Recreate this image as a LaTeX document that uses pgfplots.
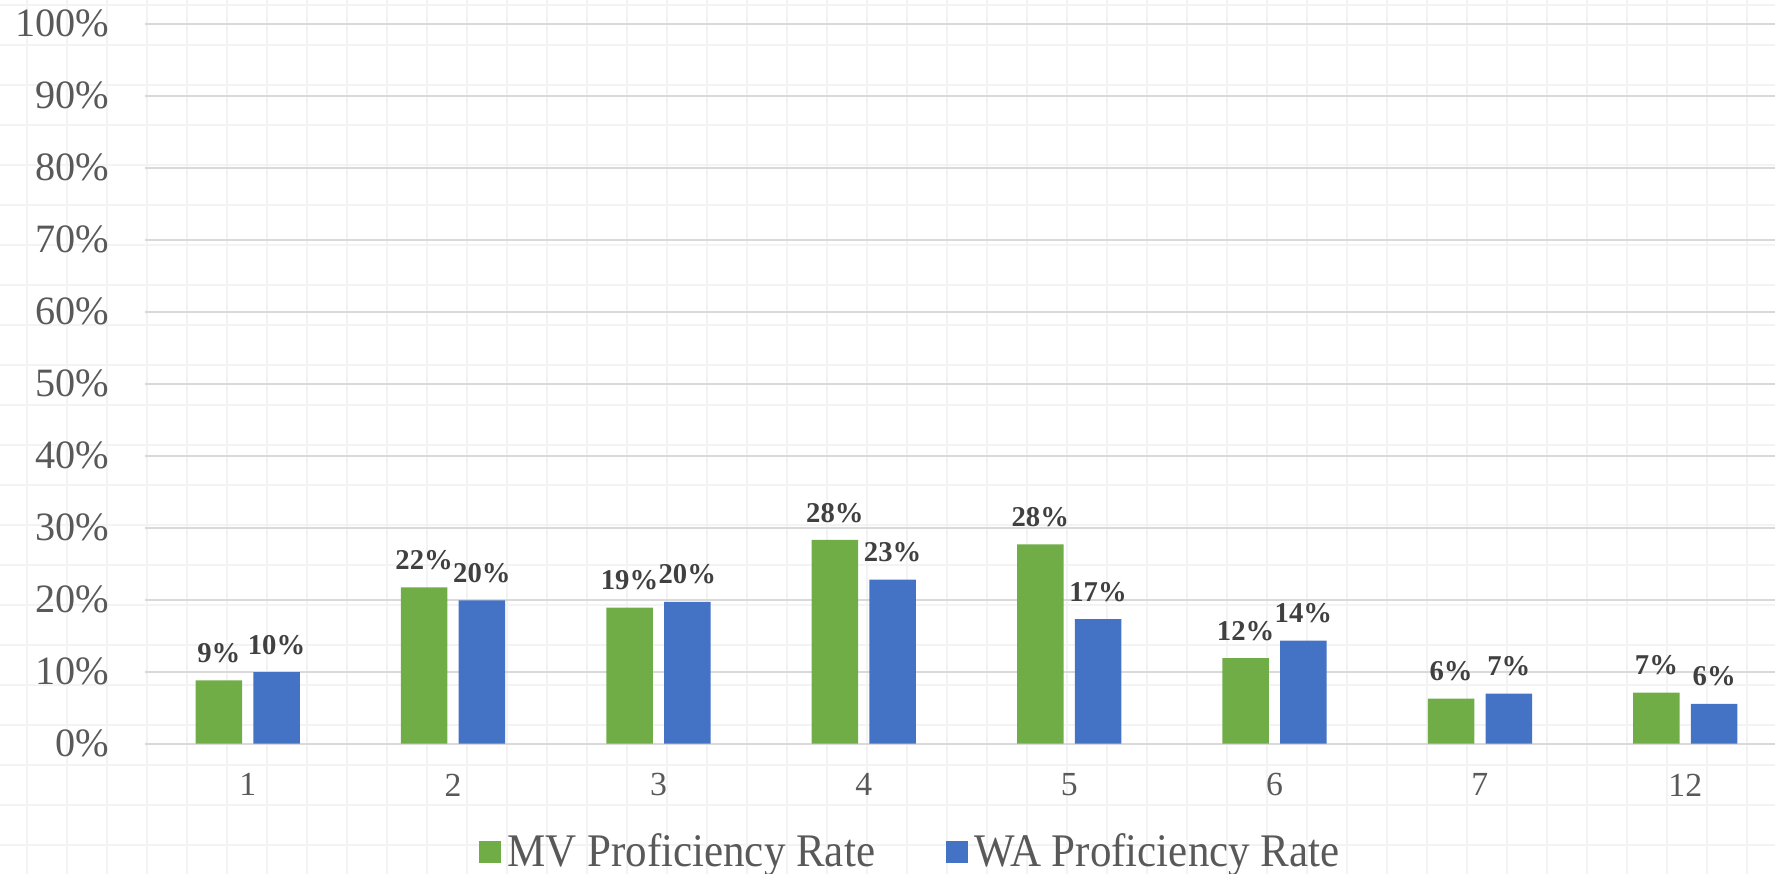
\documentclass[border=0pt]{standalone}
\usepackage{fontspec}
\setmainfont{Liberation Serif}
\usepackage{graphicx}
\usepackage{pgfplots}
\pgfplotsset{compat=1.18}
\definecolor{mvgreen}{HTML}{70AD47}
\definecolor{wablue}{HTML}{4472C4}
\definecolor{lbl}{HTML}{404040}
\definecolor{tk}{HTML}{595959}
\definecolor{gridc}{HTML}{D9D9D9}
\definecolor{cellc}{HTML}{F3F3F3}
\begin{document}
\begin{tikzpicture}
\begin{scope}[shift={(-49.015pt,251.40pt)}, x=0.33803pt, y=-0.33803pt]
\foreach \i in {0,...,43} \draw[cellc, line width=0.6pt] ({27+40*\i},0) -- ({27+40*\i},874);
\foreach \j in {0,...,21} \draw[cellc, line width=0.6pt] (0,{5+40*\j}) -- (1775,{5+40*\j});
\end{scope}
\begin{axis}[
  at={(0pt,0pt)}, anchor=south west,
  scale only axis, width=551pt, height=243.4pt,
  xmin=-0.5, xmax=7.437, ymin=0, ymax=100,
  axis line style={draw=none},
  ymajorgrids, grid style={gridc, line width=0.6pt},
  ytick={0,10,...,100},
  yticklabel={\pgfmathprintnumber{\tick}\%},
  xtick={0,...,7}, xticklabels={1,2,3,4,5,6,7,12},
  major tick length=0pt, tick style={draw=none},
  /pgf/number format/assume math mode=true,
  yticklabel style={font=\fontsize{13.6}{15}\selectfont, text=tk, anchor=east, inner sep=0pt, xshift=-11.8pt},
  xticklabel style={font=\fontsize{11.4}{13}\selectfont, text=tk, anchor=center, inner sep=0pt, yshift=-13.9pt},
  ybar, bar width=0.226,
  nodes near coords={\pgfmathprintnumber[fixed,precision=0]{\pgfplotspointmeta}\%},
  nodes near coords style={font=\bfseries\fontsize{9.7}{11}\selectfont, text=lbl, yshift=2.4pt},
  legend columns=2,
  legend image code/.code={\fill[#1] (-1.9pt,-3.85pt) rectangle (5.8pt,3.85pt);},
  legend style={at={(axis description cs:0.4706,-0.1504)}, anchor=center, draw=none, fill=none,
    font=\fontsize{15.8}{17}\selectfont, text=tk,
    /tikz/every even column/.append style={column sep=21.8pt},
    /tikz/every odd column/.append style={column sep=0pt}},
  clip=false,
]
\addplot[fill=mvgreen, draw=none, bar shift=-0.1406] coordinates {
(0,8.8) (1,21.7) (2,18.9) (3,28.3) (4,27.7) (5,11.9) (6,6.25) (7,7.08)};
\addlegendentry{\scalebox{0.92}[1]{MV Proficiency Rate}}
\addplot[fill=wablue, draw=none, bar shift=0.1406] coordinates {
(0,9.95) (1,19.9) (2,19.7) (3,22.8) (4,17.3) (5,14.3) (6,6.94) (7,5.55)};
\addlegendentry{\scalebox{0.92}[1]{WA Proficiency Rate}}
\end{axis}
\pgfresetboundingbox
\begin{scope}[shift={(-49.015pt,251.40pt)}, x=0.33803pt, y=-0.33803pt]
\path[use as bounding box] (0,0) rectangle (1775,874);
\end{scope}
\end{tikzpicture}
\end{document}
